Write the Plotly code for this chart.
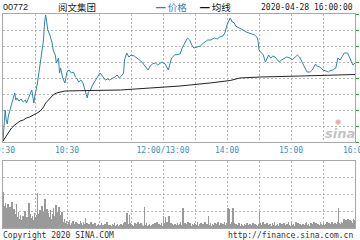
import plotly.graph_objects as go

# ---- data (trading-minute index: 0 = 09:30, 150 = 12:00/13:00, 330 = 16:00) ----
price_min = [0, 1, 2, 3, 4, 5, 6, 7, 8, 10, 11, 12, 13, 15, 17, 19, 21, 22, 24, 26, 27, 28, 29, 30,
             32, 34, 36, 38, 39, 40, 41, 42, 44, 46, 47, 49, 50, 52, 53, 54, 56, 58, 60, 62, 64, 66,
             68, 69, 71, 73, 75, 77, 78, 79, 80, 82, 84, 86, 88, 91, 94, 96, 98, 100, 103, 105, 107,
             109, 111, 113, 114, 116, 118, 120, 123, 126, 128, 131, 134, 136, 138, 140, 143, 145,
             149, 152, 155, 157, 158, 161, 164, 166, 168, 171, 173, 175, 177, 179, 182, 185, 188,
             190, 192, 195, 198, 201, 203, 206, 208, 210, 212, 213, 215, 217, 218, 220, 222, 225,
             228, 231, 233, 236, 238, 239, 240, 242, 244, 246, 248, 249, 251, 253, 255, 257, 259,
             261, 263, 266, 269, 271, 274, 276, 278, 279, 281, 283, 285, 288, 290, 293, 294, 297,
             300, 303, 305, 306, 309, 312, 313, 314, 316, 318, 320, 323, 324, 326, 328, 330]
price = [30.01, 30.14, 30.32, 30.22, 30.18, 30.26, 30.30, 30.34, 30.38, 30.45, 30.49, 30.42, 30.44,
         30.41, 30.43, 30.40, 30.42, 30.39, 30.44, 30.49, 30.52, 30.45, 30.39, 30.47, 30.57, 30.72,
         30.87, 31.02, 31.20, 31.27, 31.20, 31.12, 31.07, 30.99, 30.92, 30.87, 30.79, 30.84, 30.69,
         30.74, 30.64, 30.59, 30.70, 30.72, 30.69, 30.70, 30.65, 30.64, 30.60, 30.62, 30.59, 30.52,
         30.47, 30.44, 30.50, 30.52, 30.57, 30.60, 30.64, 30.69, 30.65, 30.62, 30.63, 30.62, 30.64,
         30.65, 30.67, 30.64, 30.66, 30.69, 30.82, 30.89, 30.85, 30.87, 30.86, 30.84, 30.82, 30.79,
         30.74, 30.72, 30.76, 30.78, 30.79, 30.77, 30.80, 30.78, 30.72, 30.80, 30.84, 30.87, 30.88,
         30.88, 30.94, 31.00, 31.04, 31.02, 30.97, 30.94, 30.95, 30.96, 30.99, 31.01, 31.02, 31.02,
         31.04, 31.03, 31.05, 31.06, 31.09, 31.17, 31.22, 31.24, 31.20, 31.19, 31.16, 31.15, 31.14,
         31.12, 31.10, 31.09, 31.08, 31.07, 31.05, 31.02, 30.92, 30.90, 30.87, 30.80, 30.85, 30.87,
         30.84, 30.86, 30.85, 30.82, 30.80, 30.82, 30.83, 30.85, 30.84, 30.82, 30.85, 30.87, 30.85,
         30.83, 30.79, 30.74, 30.70, 30.70, 30.72, 30.78, 30.76, 30.75, 30.72, 30.71, 30.70, 30.71,
         30.72, 30.74, 30.80, 30.84, 30.82, 30.86, 30.89, 30.89, 30.86, 30.82, 30.77, 30.79]

avg_min = [0, 3, 6, 8, 11, 13, 16, 19, 22, 25, 29, 32, 35, 38, 40, 44, 47, 50, 53, 58, 72, 88, 110,
           138, 166, 194, 213, 222, 241, 279, 306, 330]
avg_price = [30.01, 30.06, 30.11, 30.14, 30.17, 30.19, 30.21, 30.22, 30.24, 30.25, 30.27, 30.29,
             30.31, 30.35, 30.39, 30.44, 30.47, 30.49, 30.50, 30.51, 30.513, 30.517, 30.52, 30.54,
             30.56, 30.59, 30.615, 30.64, 30.65, 30.66, 30.67, 30.675]

volume = [36, 22, 25, 20, 24, 18, 21, 15, 26, 12,
          19, 14, 24, 11, 16, 9, 13, 8, 12, 10,
          17, 7, 11, 9, 25, 14, 10, 12, 8, 15,
          11, 13, 35, 14, 18, 12, 22, 16, 10, 29,
          13, 19, 15, 11, 18, 9, 14, 20, 12, 23,
          16, 10, 21, 13, 8, 16, 6, 9, 5, 7,
          4, 6, 8, 3, 5, 7, 4, 3, 6, 5,
          3, 4, 7, 5, 3, 6, 4, 10, 5, 3,
          4, 3, 6, 2, 4, 3, 5, 2, 3, 4,
          2, 3, 5, 3, 2, 4, 3, 6, 2, 3,
          3, 2, 4, 3, 5, 2, 3, 4, 2, 3,
          4, 3, 2, 5, 6, 4, 15, 4, 13, 5,
          4, 3, 2, 5, 3, 4, 6, 3, 4, 5,
          3, 2, 21, 3, 5, 2, 3, 4, 2, 3,
          4, 3, 5, 2, 6, 3, 4, 3, 5, 2,
          12, 5, 11, 6, 4, 12, 3, 5, 4, 3,
          2, 4, 3, 5, 3, 4, 6, 3, 20, 4,
          5, 3, 4, 6, 3, 5, 2, 4, 3, 5,
          4, 3, 6, 2, 4, 5, 3, 4, 2, 6,
          3, 4, 12, 3, 5, 2, 4, 3, 5, 3,
          4, 6, 3, 2, 5, 3, 4, 6, 3, 5,
          20, 20, 19, 4, 6, 20, 5, 3, 4, 2,
          3, 5, 2, 4, 3, 2, 4, 3, 5, 2,
          3, 4, 2, 3, 5, 2, 4, 3, 2, 4,
          16, 5, 3, 6, 2, 4, 3, 5, 2, 3,
          4, 2, 5, 3, 6, 2, 3, 4, 2, 5,
          3, 4, 2, 5, 3, 2, 4, 6, 3, 2,
          5, 3, 4, 2, 6, 3, 5, 2, 4, 3,
          2, 4, 3, 5, 6, 3, 4, 2, 5, 3,
          4, 6, 3, 5, 2, 4, 3, 6, 4, 3,
          5, 3, 4, 6, 3, 5, 4, 3, 6, 4,
          3, 5, 4, 6, 20, 5, 4, 6, 5, 9,
          7, 8, 5, 9, 6, 8, 7, 5, 9, 8]
vol_min = [m + 0.5 for m in range(len(volume))]

tick_vals = [0, 30, 60, 90, 120, 150, 180, 210, 240, 270, 300, 330]
tick_text = ["09:30", "", "10:30", "", "", "12:00/13:00", "", "14:00", "", "15:00", "", "16:00"]

# ---- figure ----
W, H = 360, 240
def px(x):
    return x / W
def py(y):
    return 1 - y / H

BLUE = "#2f84b4"
TICK = "#3a8fc0"
GRID = "#b8b8b8"
BORDER = "#a8a8a8"
MONO = "DejaVu Sans Mono"
CJK = "Noto Sans CJK SC"

fig = go.Figure()
fig.add_trace(go.Scatter(x=price_min, y=price, mode="lines", line=dict(color=BLUE, width=1),
                         xaxis="x", yaxis="y", showlegend=False))
fig.add_trace(go.Scatter(x=avg_min, y=avg_price, mode="lines", line=dict(color="#222222", width=1),
                         xaxis="x", yaxis="y", showlegend=False))
fig.add_trace(go.Bar(x=vol_min, y=volume, marker=dict(color="#9a9a9a", line=dict(width=0)),
                     width=0.55, xaxis="x2", yaxis="y2", showlegend=False))

xdom = [px(3), px(355)]
common_x = dict(range=[0, 330], domain=xdom, tickvals=tick_vals, showgrid=True, gridcolor=GRID,
                griddash="2px,2px", gridwidth=1, showline=True, linecolor=BORDER, linewidth=1,
                mirror=True, zeroline=False, ticks="", automargin=False)
fig.update_layout(
    width=W, height=H, margin=dict(l=0, r=0, t=0, b=0, autoexpand=False),
    paper_bgcolor="white", plot_bgcolor="white",
    xaxis=dict(**common_x, ticktext=tick_text, anchor="y", ticklabeloverflow="allow",
               tickfont=dict(family=MONO, size=8, color=TICK)),
    yaxis=dict(range=[30.0, 31.28], domain=[py(142), py(14)], tick0=30.0, dtick=0.16,
               showgrid=True, gridcolor=GRID, griddash="2px,2px", showline=True, linecolor=BORDER,
               linewidth=1, mirror=True, zeroline=False, side="right", ticks="outside",
               ticklen=3, tickwidth=1, tickcolor="#22aa22", showticklabels=False,
               automargin=False),
    xaxis2=dict(**common_x, anchor="y2", matches="x", showticklabels=False),
    yaxis2=dict(range=[0, 67], domain=[py(228), py(161)], tickvals=[16.75, 33.5, 50.25],
                showgrid=True, gridcolor=GRID, griddash="2px,2px", showline=True, linecolor=BORDER,
                linewidth=1, mirror=True, zeroline=False, showticklabels=False, ticks="",
                automargin=False),
    bargap=0,
)

ann = [
    dict(text="00772", x=px(1), y=py(6.5), xanchor="left", font=dict(family="Liberation Sans", size=9, color="#222")),
    dict(text="阅文集团", x=px(77), y=py(7), xanchor="center", font=dict(family=CJK, size=9.5, color="#222")),
    dict(text="━ 价格", x=px(154), y=py(7), xanchor="left", font=dict(family=CJK, size=9.5, color=BLUE)),
    dict(text="━ 均线", x=px(198), y=py(7), xanchor="left", font=dict(family=CJK, size=9.5, color="#111")),
    dict(text="2020-04-28 16:00:00", x=px(355), y=py(7), xanchor="right", font=dict(family=MONO, size=8, color="#222")),
    dict(text="Copyright 2020 SINA.COM", x=px(1), y=py(235), xanchor="left", font=dict(family=MONO, size=8, color="#333")),
    dict(text="http://finance.sina.com.cn", x=px(355), y=py(235), xanchor="right", font=dict(family=MONO, size=8, color="#333")),
    dict(text="<b><i>sina</i></b>", x=px(340), y=py(133), xanchor="center", font=dict(family="DejaVu Sans", size=13, color="#c4c4c4")),
    dict(text="✺", x=px(338), y=py(122), xanchor="center", font=dict(family="DejaVu Sans", size=8, color="#e8a8a8")),
]
for a in ann:
    a.update(xref="paper", yref="paper", yanchor="middle", showarrow=False)
fig.update_layout(annotations=ann)

fig.write_html("out.html")
